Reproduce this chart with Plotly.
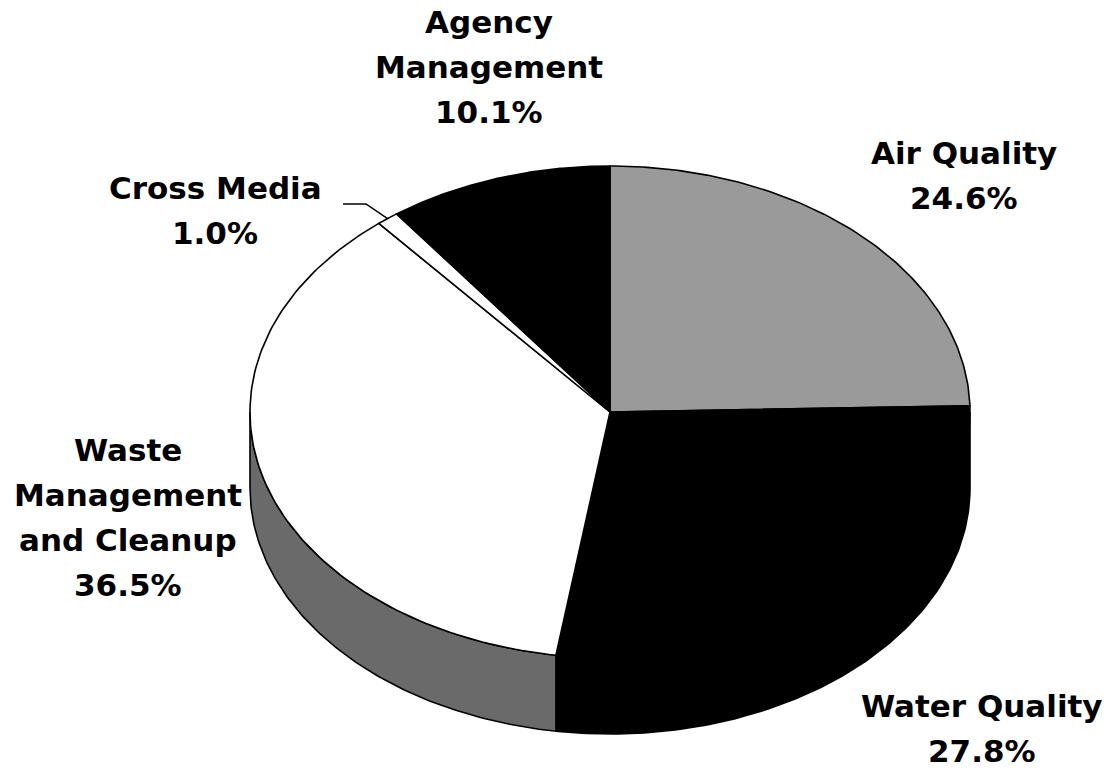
import numpy as np
import plotly.graph_objects as go

# Budget shares by program area (percent), clockwise from 12 o'clock
categories = ["Air Quality", "Water Quality", "Waste Management and Cleanup",
              "Cross Media", "Agency Management"]
shares = [24.6, 27.8, 36.5, 1.0, 10.1]
label_lines = [["Air Quality"], ["Water Quality"],
               ["Waste", "Management", "and Cleanup"],
               ["Cross Media"], ["Agency", "Management"]]

# Slice styling
top_colors = ["#9a9a9a", "#000000", "#ffffff", "#ffffff", "#000000"]
side_colors = ["#9a9a9a", "#000000", "#6a6a6a", "#ffffff", "#000000"]

# Label placement (block centre x, block centre y) in page pixels
label_pos = [(964, 175), (982, 728), (128, 517), (215, 210), (489, 67)]
LINE_PITCH = 45

# Tilted-disc geometry in page pixels
W, H = 1110, 772
CX, CY = 610, 412
RX, RY = 360, 246
DEPTH = 76


def rim(a0, a1, drop=0.0, n=120):
    t = np.radians(np.linspace(a0, a1, n))
    return CX + RX * np.sin(t), CY - RY * np.cos(t) + drop


fig = go.Figure()

bounds = np.concatenate([[0.0], np.cumsum(shares)]) / sum(shares) * 360.0

# Visible side wall (front half of the disc)
for i in range(len(shares)):
    s0, s1 = max(bounds[i], 90.0), min(bounds[i + 1], 270.0)
    if s0 >= s1:
        continue
    xt, yt = rim(s0, s1)
    xb, yb = rim(s1, s0, DEPTH)
    fig.add_trace(go.Scatter(
        x=np.concatenate([xt, xb, xt[:1]]), y=np.concatenate([yt, yb, yt[:1]]),
        mode="lines", fill="toself", fillcolor=side_colors[i],
        line=dict(color="#000000", width=1.6), hoverinfo="skip", showlegend=False))

# Top faces of the slices
for i, name in enumerate(categories):
    xa, ya = rim(bounds[i], bounds[i + 1])
    fig.add_trace(go.Scatter(
        x=np.concatenate([[CX], xa, [CX]]), y=np.concatenate([[CY], ya, [CY]]),
        mode="lines", fill="toself", fillcolor=top_colors[i],
        line=dict(color="#000000", width=1.6), name=name,
        hovertemplate=f"{name}: {shares[i]:.1f}%<extra></extra>", showlegend=False))

# Leader line for the thin Cross Media slice
k = categories.index("Cross Media")
mid = (bounds[k] + bounds[k + 1]) / 2
ex, ey = rim(mid, mid, n=1)
fig.add_trace(go.Scatter(
    x=[343, 366, ex[0]], y=[204, 204, ey[0]], mode="lines",
    line=dict(color="#000000", width=1.5), hoverinfo="skip", showlegend=False))

# Slice labels: name lines followed by the share
for i, lines in enumerate(label_lines):
    text_lines = lines + [f"{shares[i]:.1f}%"]
    x0, yc = label_pos[i]
    y_first = yc - LINE_PITCH * (len(text_lines) - 1) / 2
    for j, line in enumerate(text_lines):
        fig.add_annotation(
            x=x0, y=y_first + j * LINE_PITCH, text=line, showarrow=False,
            xanchor="center", yanchor="middle",
            font=dict(family="DejaVu Sans", size=31, color="#000000", weight="bold"))

fig.update_xaxes(range=[0, W], visible=False, fixedrange=True)
fig.update_yaxes(range=[H, 0], visible=False, fixedrange=True)
fig.update_layout(
    width=W, height=H, autosize=False,
    margin=dict(l=0, r=0, t=0, b=0),
    paper_bgcolor="#ffffff", plot_bgcolor="#ffffff",
)

fig.write_html("out.html")
